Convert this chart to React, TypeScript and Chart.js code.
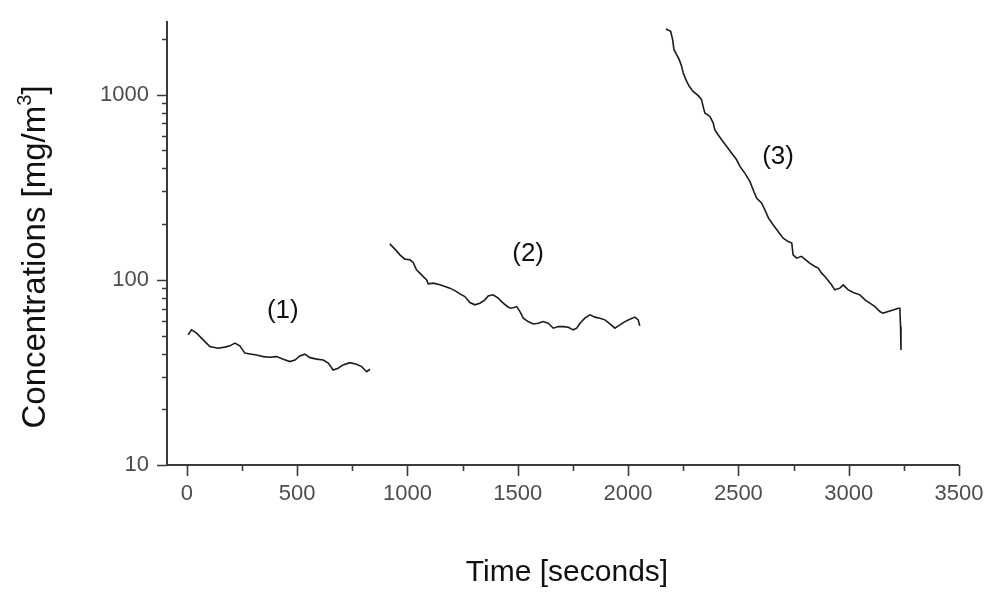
import React, { useEffect, useRef } from "react";
import { Chart, registerables } from "chart.js";

Chart.register(...registerables);

// ---- Data (time in seconds, concentration in mg/m^3) ----
const run1Time = [6, 21, 44, 74, 104, 142, 172, 195, 218, 240, 263, 286, 316, 346, 376, 407, 437, 467, 490, 512, 535, 558, 588, 618, 641, 663, 686, 708, 739, 769, 792, 815, 830];
const run1Conc = [50.4, 53.7, 51.5, 47.4, 43.6, 42.7, 43.3, 44.0, 45.5, 44.0, 40.2, 39.8, 39.3, 38.5, 38.2, 38.5, 37.3, 36.2, 36.9, 38.8, 39.7, 38.0, 37.3, 36.9, 35.5, 32.6, 33.3, 34.7, 35.7, 35.0, 34.0, 31.9, 32.9];

const run2Time = [920, 943, 966, 988, 1011, 1026, 1041, 1064, 1087, 1094, 1117, 1147, 1170, 1192, 1215, 1238, 1260, 1283, 1306, 1328, 1351, 1366, 1388, 1411, 1434, 1457, 1472, 1495, 1510, 1525, 1547, 1570, 1593, 1615, 1638, 1661, 1684, 1706, 1729, 1751, 1767, 1782, 1804, 1827, 1850, 1872, 1895, 1918, 1940, 1963, 1986, 2008, 2031, 2046, 2053];
const run2Conc = [156.5, 146.5, 136.5, 129.4, 128.3, 124.1, 113.3, 106.4, 100, 95.1, 96.0, 94.0, 92.0, 90.2, 87.5, 84.0, 81.2, 75.4, 73.3, 74.8, 78.0, 81.9, 83.0, 79.6, 74.8, 71.2, 70.3, 71.7, 67.4, 62.1, 59.5, 57.8, 58.3, 59.5, 58.3, 54.8, 55.9, 55.9, 55.5, 53.7, 54.8, 58.3, 62.1, 64.7, 62.9, 62.1, 60.8, 57.8, 54.8, 57.1, 59.5, 61.3, 62.9, 60.8, 56.4];

const run3Time = [2171, 2193, 2202, 2208, 2220, 2232, 2243, 2250, 2262, 2277, 2295, 2318, 2333, 2340, 2348, 2371, 2386, 2393, 2408, 2424, 2447, 2469, 2492, 2507, 2529, 2552, 2570, 2583, 2605, 2620, 2636, 2658, 2681, 2703, 2726, 2742, 2748, 2764, 2786, 2801, 2823, 2847, 2862, 2877, 2892, 2907, 2922, 2937, 2960, 2975, 2998, 3021, 3051, 3074, 3096, 3119, 3141, 3156, 3179, 3202, 3225, 3232, 3235, 3237];
const run3Conc = [2265, 2199, 1983, 1751, 1645, 1546, 1422, 1310, 1205, 1109, 1042, 988, 940, 865, 796, 763, 703, 647, 608, 571, 525, 484, 445, 410, 377, 340, 300, 276, 260, 239, 216, 198, 182, 168, 161, 158, 136.5, 131, 134, 129.4, 123, 118, 115.7, 108.7, 104.2, 99.1, 94.0, 88.3, 90.2, 94.0, 88.3, 85.4, 83.0, 78.0, 74.8, 71.7, 67.4, 66.1, 67.4, 68.8, 70.3, 70.3, 55.9, 41.8];

// Annotation labels and their positions (data coordinates)
const runLabels = ["(1)", "(2)", "(3)"];
const runLabelTime = [435, 1547, 2680];
const runLabelConc = [68, 139, 464];

// Axis ticks
const xMajorTicks = [0, 500, 1000, 1500, 2000, 2500, 3000, 3500];
const xMinorTicks = [250, 750, 1250, 1750, 2250, 2750, 3250];
const yMajorTicks = [10, 100, 1000];
const yMinorTicks = [20, 30, 40, 50, 60, 70, 80, 90, 200, 300, 400, 500, 600, 700, 800, 900, 2000];

const X_TITLE = "Time [seconds]";
const Y_TITLE_MAIN = "Concentrations [mg/m";
const Y_TITLE_SUP = "3";
const Y_TITLE_END = "]";

const FONT = "'Liberation Sans', Arial, Helvetica, sans-serif";
const AXIS_COLOR = "#3a3a3a";
const LINE_COLOR = "#1c1c1c";
const TICK_LABEL_COLOR = "#4d4d4d";

const zip = (t: number[], c: number[]) => t.map((v, i) => ({ x: v, y: c[i] }));

const decorPlugin = {
  id: "decor",
  afterDraw(chart: any) {
    const { ctx, chartArea: a, scales } = chart;
    const xs = scales.x;
    const ys = scales.y;
    ctx.save();
    // axis lines
    ctx.strokeStyle = AXIS_COLOR;
    ctx.lineWidth = 2;
    ctx.beginPath();
    ctx.moveTo(a.left, a.top);
    ctx.lineTo(a.left, a.bottom);
    ctx.lineTo(a.right, a.bottom);
    ctx.stroke();

    // tick marks
    ctx.lineWidth = 1.6;
    ctx.beginPath();
    for (const v of yMajorTicks) {
      const py = Math.round(ys.getPixelForValue(v)) + 0.5;
      ctx.moveTo(a.left - 10, py);
      ctx.lineTo(a.left, py);
    }
    for (const v of yMinorTicks) {
      const py = Math.round(ys.getPixelForValue(v)) + 0.5;
      ctx.moveTo(a.left - 5, py);
      ctx.lineTo(a.left, py);
    }
    for (const v of xMajorTicks) {
      const px = Math.round(xs.getPixelForValue(v)) + 0.5;
      ctx.moveTo(px, a.bottom);
      ctx.lineTo(px, a.bottom + 11);
    }
    for (const v of xMinorTicks) {
      const px = Math.round(xs.getPixelForValue(v)) + 0.5;
      ctx.moveTo(px, a.bottom);
      ctx.lineTo(px, a.bottom + 6);
    }
    ctx.stroke();

    // run labels
    ctx.fillStyle = "#111";
    ctx.font = `26px ${FONT}`;
    ctx.textAlign = "center";
    ctx.textBaseline = "middle";
    runLabels.forEach((lab, i) => {
      ctx.fillText(lab, xs.getPixelForValue(runLabelTime[i]), ys.getPixelForValue(runLabelConc[i]));
    });

    // x title
    ctx.font = `30px ${FONT}`;
    ctx.textAlign = "center";
    ctx.textBaseline = "alphabetic";
    ctx.fillText(X_TITLE, (a.left + a.right) / 2 + 4, 581);

    // y title with superscript
    const mainFont = `33px ${FONT}`;
    const supFont = `20px ${FONT}`;
    ctx.font = mainFont;
    const wMain = ctx.measureText(Y_TITLE_MAIN).width;
    const wEnd = ctx.measureText(Y_TITLE_END).width;
    ctx.font = supFont;
    const wSup = ctx.measureText(Y_TITLE_SUP).width;
    const total = wMain + wSup + wEnd;
    ctx.translate(45, 257);
    ctx.rotate(-Math.PI / 2);
    ctx.textAlign = "left";
    let cx = -total / 2;
    ctx.font = mainFont;
    ctx.fillText(Y_TITLE_MAIN, cx, 0);
    cx += wMain;
    ctx.font = supFont;
    ctx.fillText(Y_TITLE_SUP, cx, -14);
    cx += wSup;
    ctx.font = mainFont;
    ctx.fillText(Y_TITLE_END, cx, 0);
    ctx.restore();
  },
};

export default function App() {
  const ref = useRef<HTMLCanvasElement | null>(null);

  useEffect(() => {
    if (!ref.current) return;
    const ds = (data: { x: number; y: number }[]) => ({
      data,
      borderColor: LINE_COLOR,
      borderWidth: 1.6,
      pointRadius: 0,
      tension: 0,
      fill: false,
    });
    const chart = new Chart(ref.current, {
      type: "line",
      data: {
        datasets: [
          ds(zip(run1Time, run1Conc)),
          ds(zip(run2Time, run2Conc)),
          ds(zip(run3Time, run3Conc)),
        ],
      },
      options: {
        animation: false,
        responsive: false,
        devicePixelRatio: 1,
        layout: { padding: { left: 0, top: 21, right: 28, bottom: 0 } },
        plugins: { legend: { display: false }, tooltip: { enabled: false } },
        scales: {
          x: {
            type: "linear",
            min: -90,
            max: 3500,
            grid: { display: false, drawTicks: false },
            border: { display: false },
            afterBuildTicks: (s: any) => {
              s.ticks = xMajorTicks.map((v) => ({ value: v }));
            },
            ticks: {
              autoSkip: false,
              maxRotation: 0,
              padding: 16,
              color: TICK_LABEL_COLOR,
              font: { family: FONT, size: 22 },
              callback: (v: any) => String(v),
            },
            afterFit: (s: any) => {
              s.height = 129;
              s.paddingLeft = 0;
              s.paddingRight = 0;
            },
          },
          y: {
            type: "logarithmic",
            min: 10,
            max: 2500,
            grid: { display: false, drawTicks: false },
            border: { display: false },
            afterBuildTicks: (s: any) => {
              s.ticks = yMajorTicks.map((v) => ({ value: v }));
            },
            ticks: {
              autoSkip: false,
              padding: 18,
              color: TICK_LABEL_COLOR,
              font: { family: FONT, size: 22 },
              callback: (v: any) => String(Math.round(Number(v))),
            },
            afterFit: (s: any) => {
              s.width = 167;
              s.paddingTop = 0;
              s.paddingBottom = 0;
            },
          },
        },
      },
      plugins: [decorPlugin],
    });
    return () => chart.destroy();
  }, []);

  return (
    <div style={{ position: "absolute", left: 0, top: 0, width: 987, height: 594, background: "#fff" }}>
      <canvas ref={ref} width={987} height={594} style={{ display: "block" }} />
    </div>
  );
}
